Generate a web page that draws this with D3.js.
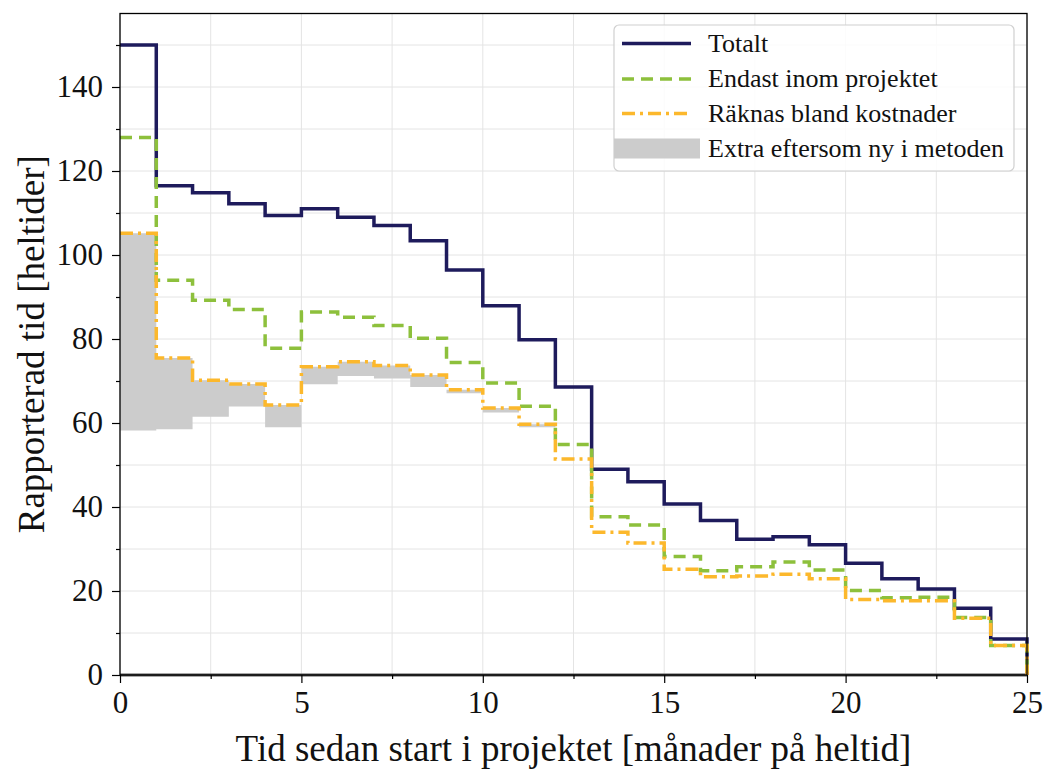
<!DOCTYPE html>
<html>
<head>
<meta charset="utf-8">
<script src="https://cdn.jsdelivr.net/npm/d3@7"></script>
<style>
  body { margin: 0; background: #fff; }
  text { font-family: "Liberation Serif", "DejaVu Serif", serif; fill: #111; }
</style>
</head>
<body>
<script>
// månader (bin start), 0..24
var manader = d3.range(0, 25);

var totalt = [150, 116.5, 114.8, 112.2, 109.4, 111, 109, 107, 103.4, 96.4,
              87.9, 79.8, 68.6, 49, 46, 40.7, 36.8, 32.3, 32.9, 31,
              26.6, 22.9, 20.5, 15.9, 8.6];
var endast = [128, 94, 89.2, 87, 77.8, 86.4, 85.2, 83.2, 80.2, 74.4,
              69.5, 64, 54.9, 37.7, 35.7, 28.2, 24.8, 25.8, 26.9, 25,
              20.1, 18.4, 18.5, 13.7, 7];
var raknas = [105.2, 75.5, 70.2, 69.3, 64.3, 73.4, 74.6, 73.7, 71.4, 67.9,
              63.6, 59.7, 51.4, 34, 31.4, 25.2, 23.4, 23.6, 24, 22.9,
              18, 17.7, 17.7, 13.5, 7];
// extra eftersom ny i metoden (del av "raknas")
var extra = [47, 17, 8.7, 5.4, 5.3, 4.2, 3.4, 3.1, 2.8, 0.8,
             1.1, 0.7, 0, 0, 0, 0, 0, 0, 0, 0,
             0, 0, 0, 0, 0];

var xMajor = [0, 5, 10, 15, 20, 25];
var xMinor = [2.5, 7.5, 12.5, 17.5, 22.5];
var yMajor = [0, 20, 40, 60, 80, 100, 120, 140];
var yMinor = [10, 30, 50, 70, 90, 110, 130, 150];

var serier = [
  {namn: "Totalt", varden: totalt, farg: "#1e1b5c", dash: null},
  {namn: "Endast inom projektet", varden: endast, farg: "#8dc03c", dash: "12,7"},
  {namn: "Räknas bland kostnader", varden: raknas, farg: "#fcb82c", dash: "13,5,3,5"}
];

var W = 1043, H = 771;
var pL = 120, pR = 1027, pT = 13.5, pB = 675;

var svg = d3.select("body").append("svg")
    .attr("width", W).attr("height", H);

var x = d3.scaleLinear().domain([0, 25]).range([pL, pR]);
var y = d3.scaleLinear().domain([0, 157.5]).range([pB, pT]);

// grid
var grid = svg.append("g");
grid.selectAll(".gx").data(xMajor.concat(xMinor)).enter().append("line")
    .attr("x1", d => x(d)).attr("x2", d => x(d))
    .attr("y1", pT).attr("y2", pB)
    .attr("stroke", "#e4e4e4").attr("stroke-width", 1);
grid.selectAll(".gy").data(yMajor.concat(yMinor)).enter().append("line")
    .attr("x1", pL).attr("x2", pR)
    .attr("y1", d => y(d)).attr("y2", d => y(d))
    .attr("stroke", "#e4e4e4").attr("stroke-width", 1);

// step data: each bin plus a final drop to 0 at x=25
function stegPunkter(v) {
  var p = manader.map((m, i) => [m, v[i]]);
  p.push([25, 0]);
  return p;
}

// gray fill
var area = d3.area()
    .curve(d3.curveStepAfter)
    .x(d => x(d.m))
    .y0(d => y(d.lo))
    .y1(d => y(d.hi));
var omr = manader.map((m, i) => ({m: m, hi: raknas[i], lo: raknas[i] - extra[i]}));
omr.push({m: 25, hi: 0, lo: 0});
svg.append("path")
    .datum(omr)
    .attr("d", area)
    .attr("fill", "#cccccc");

// zero line
svg.append("line")
    .attr("x1", pL).attr("x2", pR)
    .attr("y1", y(0)).attr("y2", y(0))
    .attr("stroke", "#555").attr("stroke-width", 3);

var line = d3.line()
    .curve(d3.curveStepAfter)
    .x(d => x(d[0]))
    .y(d => y(d[1]));

serier.forEach(function(s) {
  svg.append("path")
      .datum(stegPunkter(s.varden))
      .attr("d", line)
      .attr("fill", "none")
      .attr("stroke", s.farg)
      .attr("stroke-width", 3.5)
      .attr("stroke-dasharray", s.dash);
});

// spines
svg.append("rect")
    .attr("x", pL).attr("y", pT)
    .attr("width", pR - pL).attr("height", pB - pT)
    .attr("fill", "none").attr("stroke", "#000").attr("stroke-width", 1.3);

// axes
var xAxis = d3.axisBottom(x).tickValues(xMajor).tickSize(8).tickPadding(8)
    .tickFormat(d3.format("d"));
var gx = svg.append("g").attr("transform", "translate(0," + pB + ")").call(xAxis);
gx.append("g").call(d3.axisBottom(x).tickValues(xMinor).tickSize(4).tickFormat(""));

var yAxis = d3.axisLeft(y).tickValues(yMajor).tickSize(8).tickPadding(9)
    .tickFormat(d3.format("d"));
var gy = svg.append("g").attr("transform", "translate(" + pL + ",0)").call(yAxis);
gy.append("g").call(d3.axisLeft(y).tickValues(yMinor).tickSize(4).tickFormat(""));

svg.selectAll(".domain").remove();
svg.selectAll(".tick line").attr("stroke", "#000").attr("stroke-width", 1.2);
svg.selectAll(".tick text")
    .style("font-family", "'Liberation Serif', serif")
    .style("font-size", "31px")
    .attr("fill", "#111");

// axis labels
svg.append("text")
    .attr("x", (pL + pR) / 2).attr("y", 761)
    .attr("text-anchor", "middle")
    .style("font-size", "37px")
    .text("Tid sedan start i projektet [månader på heltid]");

svg.append("text")
    .attr("transform", "translate(44," + (pT + pB) / 2 + ") rotate(-90)")
    .attr("text-anchor", "middle")
    .style("font-size", "37px")
    .text("Rapporterad tid [heltider]");

// legend
var lg = svg.append("g");
lg.append("rect")
    .attr("x", 614).attr("y", 25).attr("width", 400).attr("height", 146)
    .attr("rx", 5)
    .attr("fill", "#fff").attr("fill-opacity", 0.85)
    .attr("stroke", "#d0d0d0").attr("stroke-width", 1.2);

var rader = [43.5, 79, 113.5, 148.5];
serier.forEach(function(s, i) {
  lg.append("line")
      .attr("x1", 622).attr("x2", 691)
      .attr("y1", rader[i]).attr("y2", rader[i])
      .attr("stroke", s.farg).attr("stroke-width", 3.5)
      .attr("stroke-dasharray", s.dash);
  lg.append("text")
      .attr("x", 708).attr("y", rader[i] + 8)
      .style("font-size", "26px")
      .text(s.namn);
});
lg.append("rect")
    .attr("x", 614).attr("y", rader[3] - 10).attr("width", 86).attr("height", 20)
    .attr("fill", "#cccccc");
lg.append("text")
    .attr("x", 708).attr("y", rader[3] + 8)
    .style("font-size", "26px")
    .text("Extra eftersom ny i metoden");
</script>
</body>
</html>
